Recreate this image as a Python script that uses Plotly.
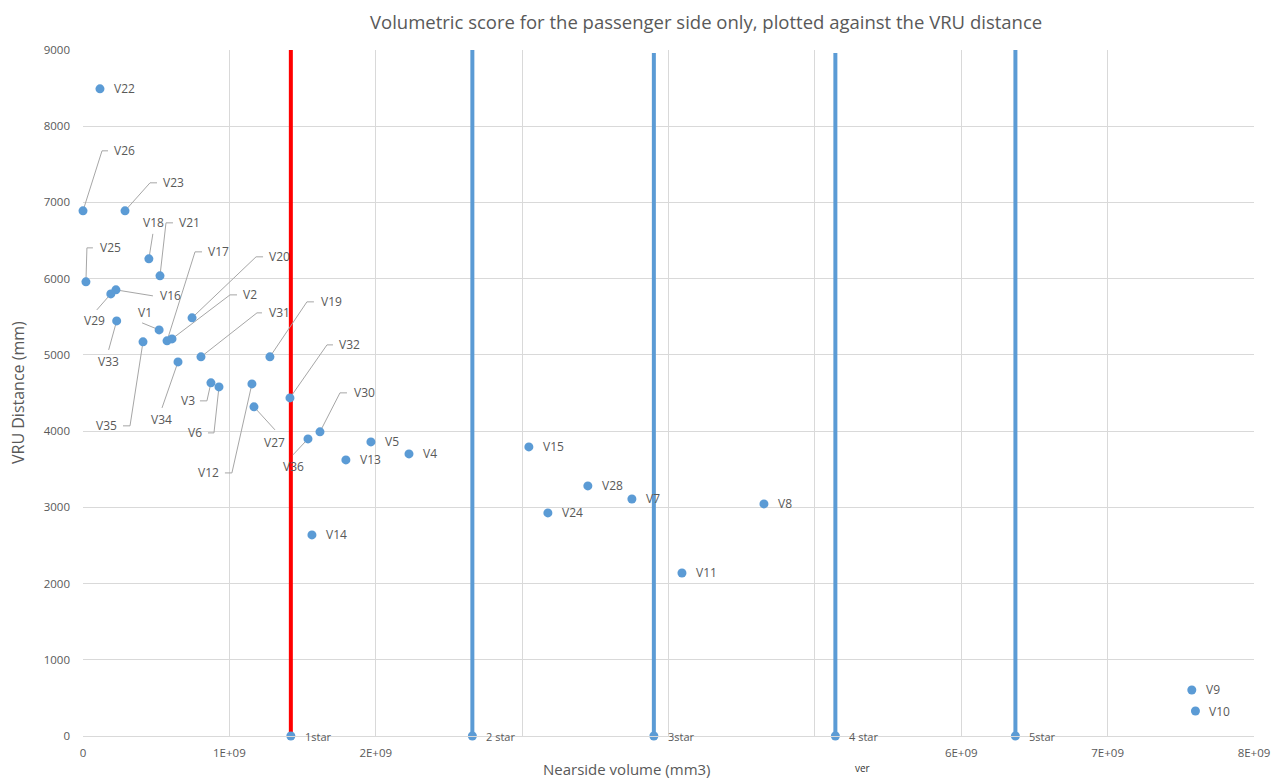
import plotly.graph_objects as go

# ---------------- data ----------------
names = ["V22", "V26", "V23", "V18", "V21", "V25", "V16", "V29", "V33", "V1",
         "V17", "V2", "V20", "V35", "V34", "V31", "V3", "V6", "V12", "V27",
         "V19", "V32", "V36", "V30", "V5", "V13", "V4", "V14", "V15", "V28",
         "V24", "V7", "V8", "V11", "V9", "V10"]
nearside_volume = [0.116e9, 0.0, 0.287e9, 0.45e9, 0.526e9, 0.02e9, 0.225e9, 0.19e9, 0.23e9, 0.52e9,
                   0.574e9, 0.608e9, 0.745e9, 0.41e9, 0.649e9, 0.806e9, 0.874e9, 0.929e9, 1.154e9, 1.168e9,
                   1.277e9, 1.414e9, 1.537e9, 1.619e9, 1.967e9, 1.796e9, 2.227e9, 1.564e9, 3.046e9, 3.449e9,
                   3.176e9, 3.750e9, 4.652e9, 4.092e9, 7.575e9, 7.60e9]
vru_distance = [8490, 6890, 6890, 6260, 6037, 5958, 5853, 5800, 5446, 5328,
                5184, 5210, 5486, 5171, 4908, 4974, 4633, 4580, 4619, 4318,
                4974, 4436, 3898, 3990, 3858, 3622, 3701, 2638, 3793, 3281,
                2927, 3110, 3045, 2139, 604, 328]

star_names = ["1star", "2 star", "3star", "4 star", "5star"]
star_volume = [1.42e9, 2.66e9, 3.90e9, 5.14e9, 6.37e9]
star_top = [9000, 9000, 8960, 8960, 9000]

x_tick_vals = [0, 1e9, 2e9, 3e9, 4e9, 5e9, 6e9, 7e9, 8e9]
x_tick_text = ["0", "1E+09", "2E+09", "", "", "", "6E+09", "7E+09", "8E+09"]
y_tick_vals = [0, 1000, 2000, 3000, 4000, 5000, 6000, 7000, 8000, 9000]

# ---------------- styling / layout geometry ----------------
PAGE_OFF = 8            # default body margin of the html page
W, H = 1284 - PAGE_OFF, 778 - PAGE_OFF
ML, MT = 83 - PAGE_OFF, 50 - PAGE_OFF
PW, PH = 1171, 686
MR, MB = W - ML - PW, H - MT - PH
X_RANGE = [0, 8e9]
Y_RANGE = [0, 9000]
PX_X = (X_RANGE[1] - X_RANGE[0]) / PW
PX_Y = (Y_RANGE[1] - Y_RANGE[0]) / PH

BLUE = "#5b9bd5"
RED = "#ff0000"
GREY_TXT = "#595959"
GRID = "#d9d9d9"
LEADER = "#a6a6a6"
FONT = "Open Sans"

# label placement in screen pixels relative to the point (dx right, dy down)
# path: leader line vertices after the point; text: (dx, dy, xanchor)
leader_labels = {
    "V26": ([(19, -60), (25, -60)], (29, -60, "left")),
    "V23": ([(25, -28), (32, -28)], (36, -28, "left")),
    "V18": ([(4, -25)], (5, -36, "center")),
    "V21": ([(6, -53), (13, -53)], (17, -53, "left")),
    "V25": ([(1, -34), (7, -34)], (12, -34, "left")),
    "V17": ([(28, -89), (35, -89)], (39, -89, "left")),
    "V20": ([(64, -61), (71, -61)], (75, -61, "left")),
    "V16": ([(37, 6)], (42, 6, "left")),
    "V2": ([(58, -44), (65, -44)], (69, -44, "left")),
    "V29": ([(-14, 16)], (-16, 27, "center")),
    "V1": ([(-17, -7)], (-14, -17, "center")),
    "V33": ([(-8, 29)], (-8, 41, "center")),
    "V31": ([(56, -44), (61, -44)], (66, -44, "left")),
    "V19": ([(37, -55), (44, -55)], (49, -55, "left")),
    "V35": ([(-13, 84), (-20, 84)], (-24, 84, "right")),
    "V34": ([(-16, 46)], (-17, 58, "center")),
    "V3": ([(-4, 18), (-11, 18)], (-14, 18, "right")),
    "V6": ([(-5, 46), (-11, 46)], (-15, 46, "right")),
    "V12": ([(-20, 89), (-27, 89)], (-31, 89, "right")),
    "V27": ([(21, 23)], (21, 36, "center")),
    "V32": ([(37, -53), (43, -53)], (47, -53, "left")),
    "V30": ([(20, -39), (27, -39)], (32, -39, "left")),
    "V36": ([(-15, 16)], (-14, 28, "center")),
}
PLAIN_DX = 12

fig = go.Figure()

# star threshold lines
for nm, v, top in zip(star_names, star_volume, star_top):
    fig.add_trace(go.Scatter(
        x=[v, v], y=[0, top], mode="lines",
        line=dict(color=RED if nm == "1star" else BLUE, width=4),
        hoverinfo="skip", showlegend=False))

# leader lines
lx, ly = [], []
for nm, xv, yv in zip(names, nearside_volume, vru_distance):
    if nm in leader_labels:
        path, _ = leader_labels[nm]
        lx.append(xv)
        ly.append(yv)
        for dx, dy in path:
            lx.append(xv + dx * PX_X)
            ly.append(yv - dy * PX_Y)
        lx.append(None)
        ly.append(None)
fig.add_trace(go.Scatter(x=lx, y=ly, mode="lines",
                         line=dict(color=LEADER, width=1),
                         hoverinfo="skip", showlegend=False))

# star points
fig.add_trace(go.Scatter(x=star_volume, y=[0] * len(star_volume), mode="markers",
                         marker=dict(color=BLUE, size=9), cliponaxis=False,
                         text=star_names, showlegend=False))

# vehicle points
fig.add_trace(go.Scatter(x=nearside_volume, y=vru_distance, mode="markers",
                         marker=dict(color=BLUE, size=9), cliponaxis=False,
                         text=names, showlegend=False))

annotations = []
lab_font = dict(family=FONT, size=12, color=GREY_TXT)
for nm, xv, yv in zip(names, nearside_volume, vru_distance):
    if nm in leader_labels:
        _, (tx, ty, anc) = leader_labels[nm]
        annotations.append(dict(x=xv + tx * PX_X, y=yv - ty * PX_Y, text=nm,
                                showarrow=False, xanchor=anc, yanchor="middle",
                                font=lab_font))
    else:
        annotations.append(dict(x=xv + PLAIN_DX * PX_X, y=yv, text=nm,
                                showarrow=False, xanchor="left", yanchor="middle",
                                font=lab_font))
for nm, v in zip(star_names, star_volume):
    annotations.append(dict(x=v + PLAIN_DX * PX_X, y=0, text=nm,
                            showarrow=False, xanchor="left", yanchor="middle",
                            font=dict(family=FONT, size=11, color=GREY_TXT)))


def px_to_paper(px, py):
    # screen pixels -> paper coords
    return (px - PAGE_OFF - ML) / PW, (MT + PH - (py - PAGE_OFF)) / PH


tx, ty = px_to_paper(706, 22)
annotations.append(dict(x=tx, y=ty, xref="paper", yref="paper", showarrow=False,
                        text="Volumetric score for the passenger side only, plotted against the VRU distance",
                        xanchor="center", yanchor="middle",
                        font=dict(family=FONT, size=18.5, color=GREY_TXT)))
tx, ty = px_to_paper(627, 769)
annotations.append(dict(x=tx, y=ty, xref="paper", yref="paper", showarrow=False,
                        text="Nearside volume (mm3)", xanchor="center", yanchor="middle",
                        font=dict(family=FONT, size=15, color=GREY_TXT)))
tx, ty = px_to_paper(18, 393)
annotations.append(dict(x=tx, y=ty, xref="paper", yref="paper", showarrow=False,
                        text="VRU Distance (mm)", textangle=-90,
                        xanchor="center", yanchor="middle",
                        font=dict(family=FONT, size=16, color=GREY_TXT)))
tx, ty = px_to_paper(862, 768)
annotations.append(dict(x=tx, y=ty, xref="paper", yref="paper", showarrow=False,
                        text="ver", xanchor="center", yanchor="middle",
                        font=dict(family=FONT, size=10, color="#333333")))

fig.update_layout(
    width=W, height=H, autosize=False,
    margin=dict(l=ML, r=MR, t=MT, b=MB),
    paper_bgcolor="white", plot_bgcolor="white",
    annotations=annotations,
    xaxis=dict(range=X_RANGE, tickvals=x_tick_vals, ticktext=x_tick_text,
               showgrid=True, gridcolor=GRID, gridwidth=1, zeroline=False,
               showline=True, linecolor=GRID, linewidth=1,
               ticks="", ticklabelstandoff=6,
               tickfont=dict(family=FONT, size=11.5, color=GREY_TXT)),
    yaxis=dict(range=Y_RANGE, tickvals=y_tick_vals,
               showgrid=True, gridcolor=GRID, gridwidth=1, zeroline=False,
               showline=False, ticks="", ticklabelstandoff=12,
               tickfont=dict(family=FONT, size=11.5, color=GREY_TXT)),
)

fig.write_html("out.html")
